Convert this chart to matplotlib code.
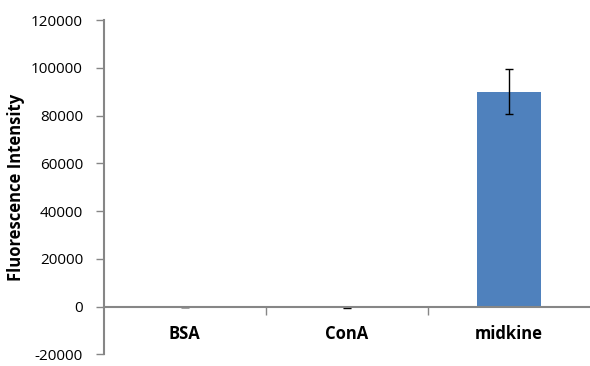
import matplotlib.pyplot as plt
from matplotlib.ticker import FixedLocator

categories = ["BSA", "ConA", "midkine"]
values = [0, -500, 90000]
errors = [0, 150, 9500]
y_ticks = [-20000, 0, 20000, 40000, 60000, 80000, 100000, 120000]

plt.rcParams['font.family'] = ['Open Sans', 'DejaVu Sans']

fig = plt.figure(figsize=(5.9, 3.66), dpi=100)
ax = fig.add_axes([0.176, 0.032, 0.824, 0.913])

x = list(range(len(categories)))
ax.bar(x, values, width=0.4, color='#4F81BD', zorder=2)
ax.errorbar(x, values, yerr=errors, fmt='none', ecolor='black',
            elinewidth=1, capsize=3, capthick=1, zorder=3)

ax.set_xlim(-0.5, len(categories) - 0.5)
ax.set_ylim(-20000, 120000)

# spine position first: moving it resets the ticks
ax.spines['top'].set_visible(False)
ax.spines['right'].set_visible(False)
ax.spines['bottom'].set_position(('data', 0))
for s in ('left', 'bottom'):
    ax.spines[s].set_color('#868686')
    ax.spines[s].set_linewidth(1.5)
    ax.spines[s].set_zorder(4)

ax.xaxis.set_minor_locator(FixedLocator([0.5, 1.5]))
ax.tick_params(axis='x', which='major', length=0, pad=13)
ax.tick_params(axis='x', which='minor', length=6, color='#868686', width=1)
ax.tick_params(axis='y', length=6, color='#868686', width=1, pad=9)

ax.set_yticks(y_ticks)
ax.set_yticklabels([str(t) for t in y_ticks], fontsize=11)
ax.set_xticks(x)
ax.set_xticklabels(categories, fontsize=12, fontweight='bold')

ax.set_ylabel('Fluorescence Intensity', fontsize=12, fontweight='bold', labelpad=4)

fig.savefig('out.png', dpi=100)
